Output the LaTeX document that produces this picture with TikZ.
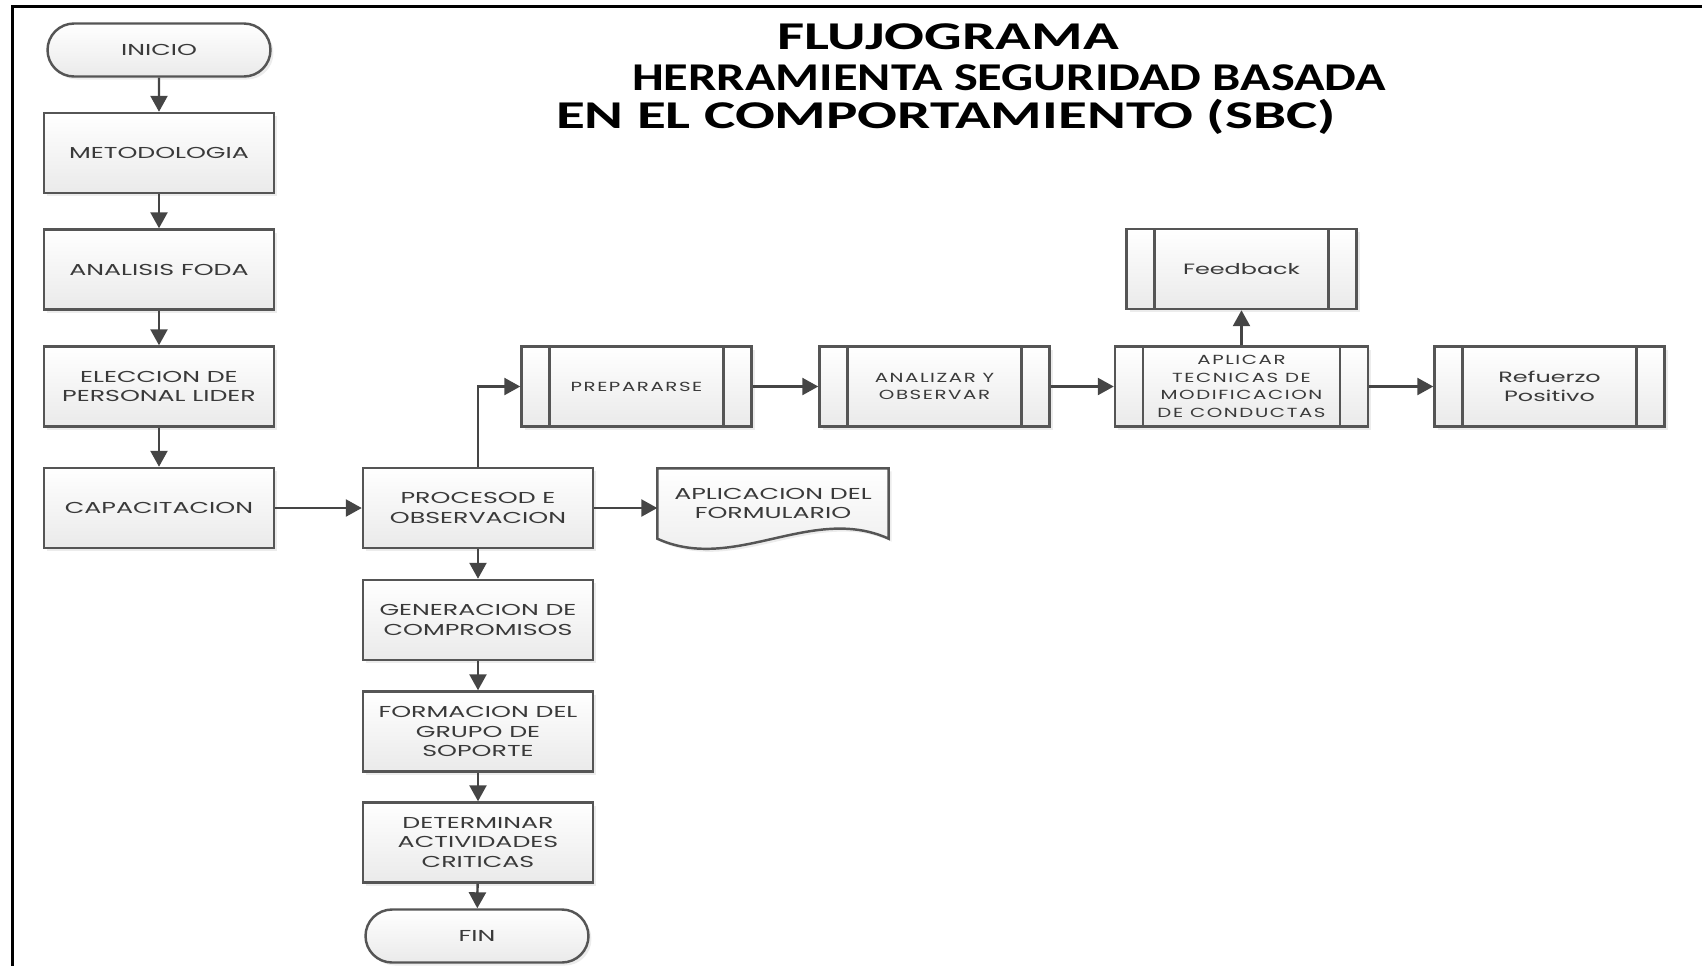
\documentclass[tikz,border=0pt]{standalone}
\usepackage{fontspec}
\usetikzlibrary{arrows.meta,shapes.misc,shadows,backgrounds}
\newfontfamily\cajafont[FakeStretch=1.6]{Poppins}
\newfontfamily\procfont[FakeStretch=1.5,LetterSpace=12]{Poppins}
\newfontfamily\titulofont[FakeStretch=1.28]{Carlito}
\newfontfamily\tituloanchofont[FakeStretch=1.5]{Carlito}
\definecolor{borde}{HTML}{555555}
\definecolor{linea}{HTML}{454545}
\definecolor{texto}{HTML}{3A3A3A}
\definecolor{fondo}{HTML}{EAEAEA}

\begin{document}
\begin{tikzpicture}[
  caja/.style={draw=borde, line width=0.7pt, top color=white, bottom color=fondo,
    drop shadow={shadow xshift=0.03cm, shadow yshift=-0.03cm, opacity=0.15},
    minimum width=2.30cm, minimum height=0.80cm, inner sep=1pt, align=center,
    text=texto, font=\cajafont\fontsize{4.5}{5.6}\selectfont},
  terminal/.style={caja, rounded rectangle, minimum height=0.53cm},
  proceso/.style={caja, path picture={
    \draw[borde, line width=0.7pt]
      ([xshift=0.28cm]path picture bounding box.north west) -- ([xshift=0.28cm]path picture bounding box.south west)
      ([xshift=-0.28cm]path picture bounding box.north east) -- ([xshift=-0.28cm]path picture bounding box.south east);}},
  mayus/.style={font=\procfont\fontsize{3.75}{5}\selectfont},
  minus/.style={font=\cajafont\fontsize{4.25}{5.6}\selectfont},
  flecha/.style={draw=linea, line width=0.7pt, -{Triangle[length=0.16cm, width=0.17cm]}}
]
\useasboundingbox (0,0) rectangle (17.02,-9.66);
\draw[line width=0.03cm] (17.02,-0.065) -- (0.125,-0.065) -- (0.125,-9.66);

\node[anchor=base, font=\tituloanchofont\bfseries\fontsize{11.2}{12}\selectfont] (titulo1) at (9.48,-0.49) {FLUJOGRAMA};
\node[anchor=base, font=\titulofont\bfseries\fontsize{11.2}{12}\selectfont] (titulo2) at (10.09,-0.90) {HERRAMIENTA SEGURIDAD BASADA};
\node[anchor=base, font=\tituloanchofont\bfseries\fontsize{11.2}{12}\selectfont] (titulo3) at (9.46,-1.28) {EN EL COMPORTAMIENTO (SBC)};

\node[terminal] (inicio) at (1.59,-0.50) {INICIO};
\node[caja] (metodologia) at (1.59,-1.53) {METODOLOGIA};
\node[caja] (foda) at (1.59,-2.695) {ANALISIS FODA};
\node[caja] (eleccion) at (1.59,-3.865) {ELECCION DE\\PERSONAL LIDER};
\node[caja] (capacitacion) at (1.59,-5.08) {CAPACITACION};

\node[caja] (observacion) at (4.78,-5.08) {PROCESOD E\\OBSERVACION};
\node[caja] (compromisos) at (4.78,-6.20) {GENERACION DE\\COMPROMISOS};
\node[caja] (soporte) at (4.78,-7.315) {FORMACION DEL\\GRUPO DE\\SOPORTE};
\node[caja] (criticas) at (4.78,-8.425) {DETERMINAR\\ACTIVIDADES\\CRITICAS};
\node[terminal] (fin) at (4.77,-9.36) {FIN};

\node[text=texto, align=center, minimum width=2.30cm, minimum height=0.69cm,
  font=\cajafont\fontsize{4.5}{5.6}\selectfont] (formulario) at (7.73,-5.035) {APLICACION DEL\\FORMULARIO};
\begin{scope}[on background layer]
\draw[borde, line width=0.7pt, top color=white, bottom color=fondo,
  drop shadow={shadow xshift=0.03cm, shadow yshift=-0.03cm, opacity=0.15}]
  (formulario.south west) -- (formulario.north west) -- (formulario.north east) -- (formulario.south east)
  .. controls +(-0.77,0.35) and +(0.77,-0.35) .. (formulario.south west) -- cycle;
\end{scope}

\node[proceso, mayus] (preparar) at (6.365,-3.865) {PREPARARSE};
\node[proceso, mayus] (analizar) at (9.345,-3.865) {ANALIZAR Y\\OBSERVAR};
\node[proceso, mayus, minimum width=2.53cm] (aplicar) at (12.415,-3.865) {APLICAR\\TECNICAS DE\\MODIFICACION\\DE CONDUCTAS};
\node[proceso, minus] (feedback) at (12.415,-2.69) {Feedback};
\node[proceso, minus] (refuerzo) at (15.495,-3.865) {Refuerzo\\Positivo};

\draw[flecha] (inicio) -- (metodologia);
\draw[flecha] (metodologia) -- (foda);
\draw[flecha] (foda) -- (eleccion);
\draw[flecha] (eleccion) -- (capacitacion);
\draw[flecha] (capacitacion) -- (observacion);
\draw[flecha] (observacion.east) -- (observacion.east -| formulario.west);
\draw[flecha] (observacion) -- (compromisos);
\draw[flecha] (compromisos) -- (soporte);
\draw[flecha] (soporte) -- (criticas);
\draw[flecha] (criticas) -- (fin);
\draw[flecha] (observacion.north) |- (preparar.west);
\draw[flecha] (preparar) -- (analizar);
\draw[flecha] (analizar) -- (aplicar);
\draw[flecha] (aplicar) -- (feedback);
\draw[flecha] (aplicar) -- (refuerzo);
\end{tikzpicture}
\end{document}
